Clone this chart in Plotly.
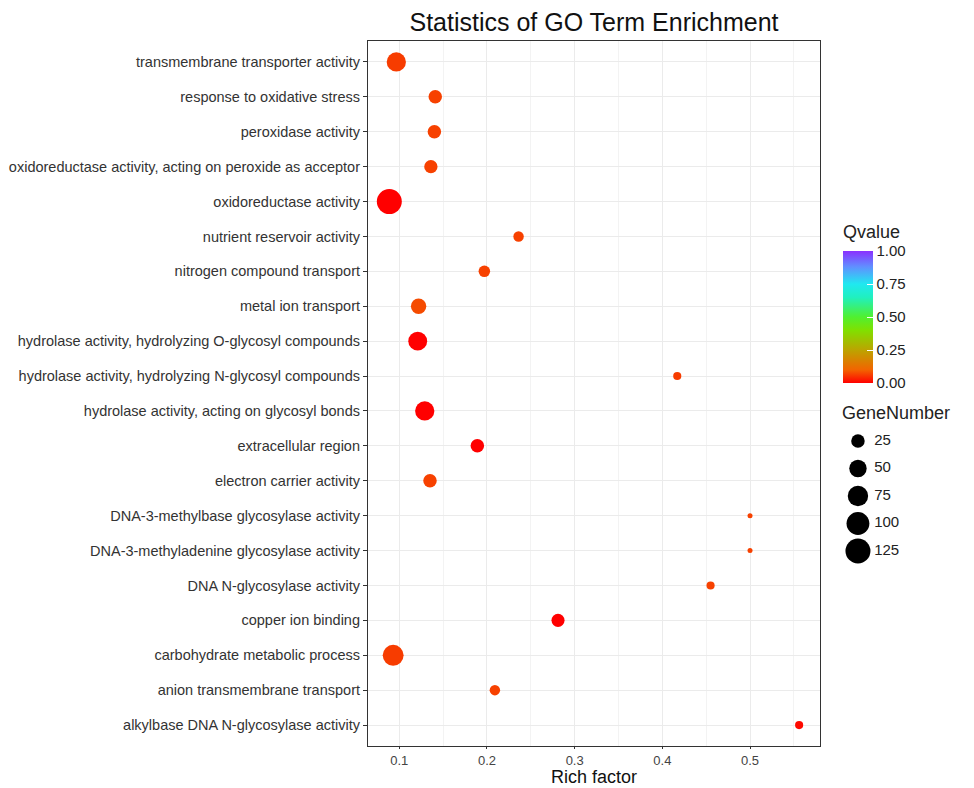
import numpy as np
import plotly.graph_objects as go

terms = [
    "transmembrane transporter activity",
    "response to oxidative stress",
    "peroxidase activity",
    "oxidoreductase activity, acting on peroxide as acceptor",
    "oxidoreductase activity",
    "nutrient reservoir activity",
    "nitrogen compound transport",
    "metal ion transport",
    "hydrolase activity, hydrolyzing O-glycosyl compounds",
    "hydrolase activity, hydrolyzing N-glycosyl compounds",
    "hydrolase activity, acting on glycosyl bonds",
    "extracellular region",
    "electron carrier activity",
    "DNA-3-methylbase glycosylase activity",
    "DNA-3-methyladenine glycosylase activity",
    "DNA N-glycosylase activity",
    "copper ion binding",
    "carbohydrate metabolic process",
    "anion transmembrane transport",
    "alkylbase DNA N-glycosylase activity",
]
rich_factor = [0.0966, 0.141, 0.140, 0.136, 0.0886, 0.236, 0.197, 0.122, 0.121, 0.417,
               0.129, 0.189, 0.135, 0.500, 0.500, 0.455, 0.281, 0.093, 0.209, 0.556]
gene_number = [65, 25, 25, 24, 125, 12, 16, 36, 62, 6,
               65, 25, 25, 3, 3, 6, 23, 80, 12, 6]
qvalue = [0.06, 0.065, 0.065, 0.065, 0.0, 0.065, 0.065, 0.075, 0.0, 0.06,
          0.0, 0.0, 0.065, 0.065, 0.065, 0.065, 0.0, 0.06, 0.065, 0.01]
legend_sizes = [25, 50, 75, 100, 125]
x_ticks = [0.1, 0.2, 0.3, 0.4, 0.5]
q_ticks = [0.0, 0.25, 0.5, 0.75, 1.0]

vmin, vmax = min(gene_number), max(gene_number)


def diam(v):
    r = (np.asarray(v, dtype=float) - vmin) / (vmax - vmin)
    return 5.0 + 20.0 * np.sqrt(np.clip(r, 0, 1))


colorscale = [
    [0.0, "#FF0000"], [0.1, "#F26400"], [0.25, "#BCA400"], [0.4, "#80E000"],
    [0.5, "#50F030"], [0.65, "#20F0C0"], [0.75, "#20E8F0"], [0.88, "#6090FF"],
    [1.0, "#8A30FF"],
]

FONT = "Liberation Sans, Arial, sans-serif"
W, H = 966, 780
L, T, PW, PH = 360, 33, 452, 705          # panel in figure pixels
AW = W - L                                # paper width


def px(xf):   # figure x pixel -> paper fraction
    return (xf - L) / AW


def py(yf):   # figure y pixel -> paper fraction
    return (T + PH - yf) / PH


fig = go.Figure()

fig.add_trace(go.Scatter(
    x=rich_factor, y=terms, mode="markers", showlegend=False,
    marker=dict(size=diam(gene_number), color=qvalue, colorscale=colorscale,
                cmin=0, cmax=1, opacity=1, line=dict(width=0),
                colorbar=dict(
                    x=px(835), xanchor="left", y=py(309), yanchor="middle",
                    thickness=30, len=132, lenmode="pixels",
                    tickvals=q_ticks, ticktext=["0.00", "0.25", "0.50", "0.75", "1.00"],
                    tickfont=dict(size=15, color="#222", family=FONT),
                    ticks="inside", ticklen=6, tickcolor="white",
                    outlinewidth=0, xpad=0, ypad=0,
                )),
))

# size legend
leg_y = list(range(len(legend_sizes)))
fig.add_trace(go.Scatter(
    x=[0.134] * len(legend_sizes), y=leg_y, mode="markers", showlegend=False,
    marker=dict(size=diam(legend_sizes), color="#000000", opacity=1, line=dict(width=0)),
    xaxis="x2", yaxis="y2", hoverinfo="skip",
))
fig.add_trace(go.Scatter(
    x=[0.255] * len(legend_sizes), y=leg_y, mode="text", showlegend=False,
    text=[str(s) for s in legend_sizes], textposition="middle right",
    textfont=dict(size=15, color="#222", family=FONT),
    xaxis="x2", yaxis="y2", hoverinfo="skip",
))

fig.update_layout(
    width=W, height=H,
    margin=dict(l=L, r=0, t=T, b=H - T - PH),
    paper_bgcolor="white", plot_bgcolor="white",
    font=dict(family=FONT, color="#333"),
    title=dict(text="Statistics of GO Term Enrichment", x=(L + PW / 2) / W, xanchor="center",
               y=1 - 14 / H, yanchor="middle", font=dict(size=25, color="#111", family=FONT)),
    xaxis=dict(
        domain=[0, PW / AW], range=[0.0643, 0.5798],
        tickvals=x_ticks, ticktext=[str(t) for t in x_ticks],
        showgrid=True, gridcolor="#EBEBEB", gridwidth=1,
        minor=dict(dtick=0.05, tick0=0.05, showgrid=True, gridcolor="#F3F3F3", gridwidth=0.6, ticks=""),
        ticks="outside", ticklen=2, tickcolor="#333", tickwidth=1,
        showline=True, linecolor="#333", linewidth=1.2, mirror=True,
        tickfont=dict(size=13, color="#444"), zeroline=False,
    ),
    yaxis=dict(
        type="category", categoryorder="array", categoryarray=terms,
        range=[len(terms) - 1 + 0.6, -0.6],
        showgrid=True, gridcolor="#EBEBEB", gridwidth=1,
        ticks="outside", ticklen=4, tickcolor="#333", tickwidth=1,
        showline=True, linecolor="#333", linewidth=1.2, mirror=True,
        tickfont=dict(size=14.5, color="#333"), zeroline=False,
    ),
    xaxis2=dict(domain=[px(832), 1.0], range=[0, 1], anchor="y2",
                visible=False, fixedrange=True),
    yaxis2=dict(domain=[py(556.75), py(419.25)], range=[4.5, -0.5], anchor="x2",
                visible=False, fixedrange=True),
    annotations=[
        dict(text="Qvalue", xref="paper", yref="paper", x=px(833), y=py(224),
             xanchor="left", yanchor="middle", showarrow=False,
             font=dict(size=18, color="#222", family=FONT)),
        dict(text="GeneNumber", xref="paper", yref="paper", x=px(832), y=py(405),
             xanchor="left", yanchor="middle", showarrow=False,
             font=dict(size=18, color="#222", family=FONT)),
        dict(text="Rich factor", xref="paper", yref="paper", x=PW / 2 / AW, y=py(769),
             xanchor="center", yanchor="middle", showarrow=False,
             font=dict(size=18, color="#111", family=FONT)),
    ],
)

fig.write_html("out.html")
